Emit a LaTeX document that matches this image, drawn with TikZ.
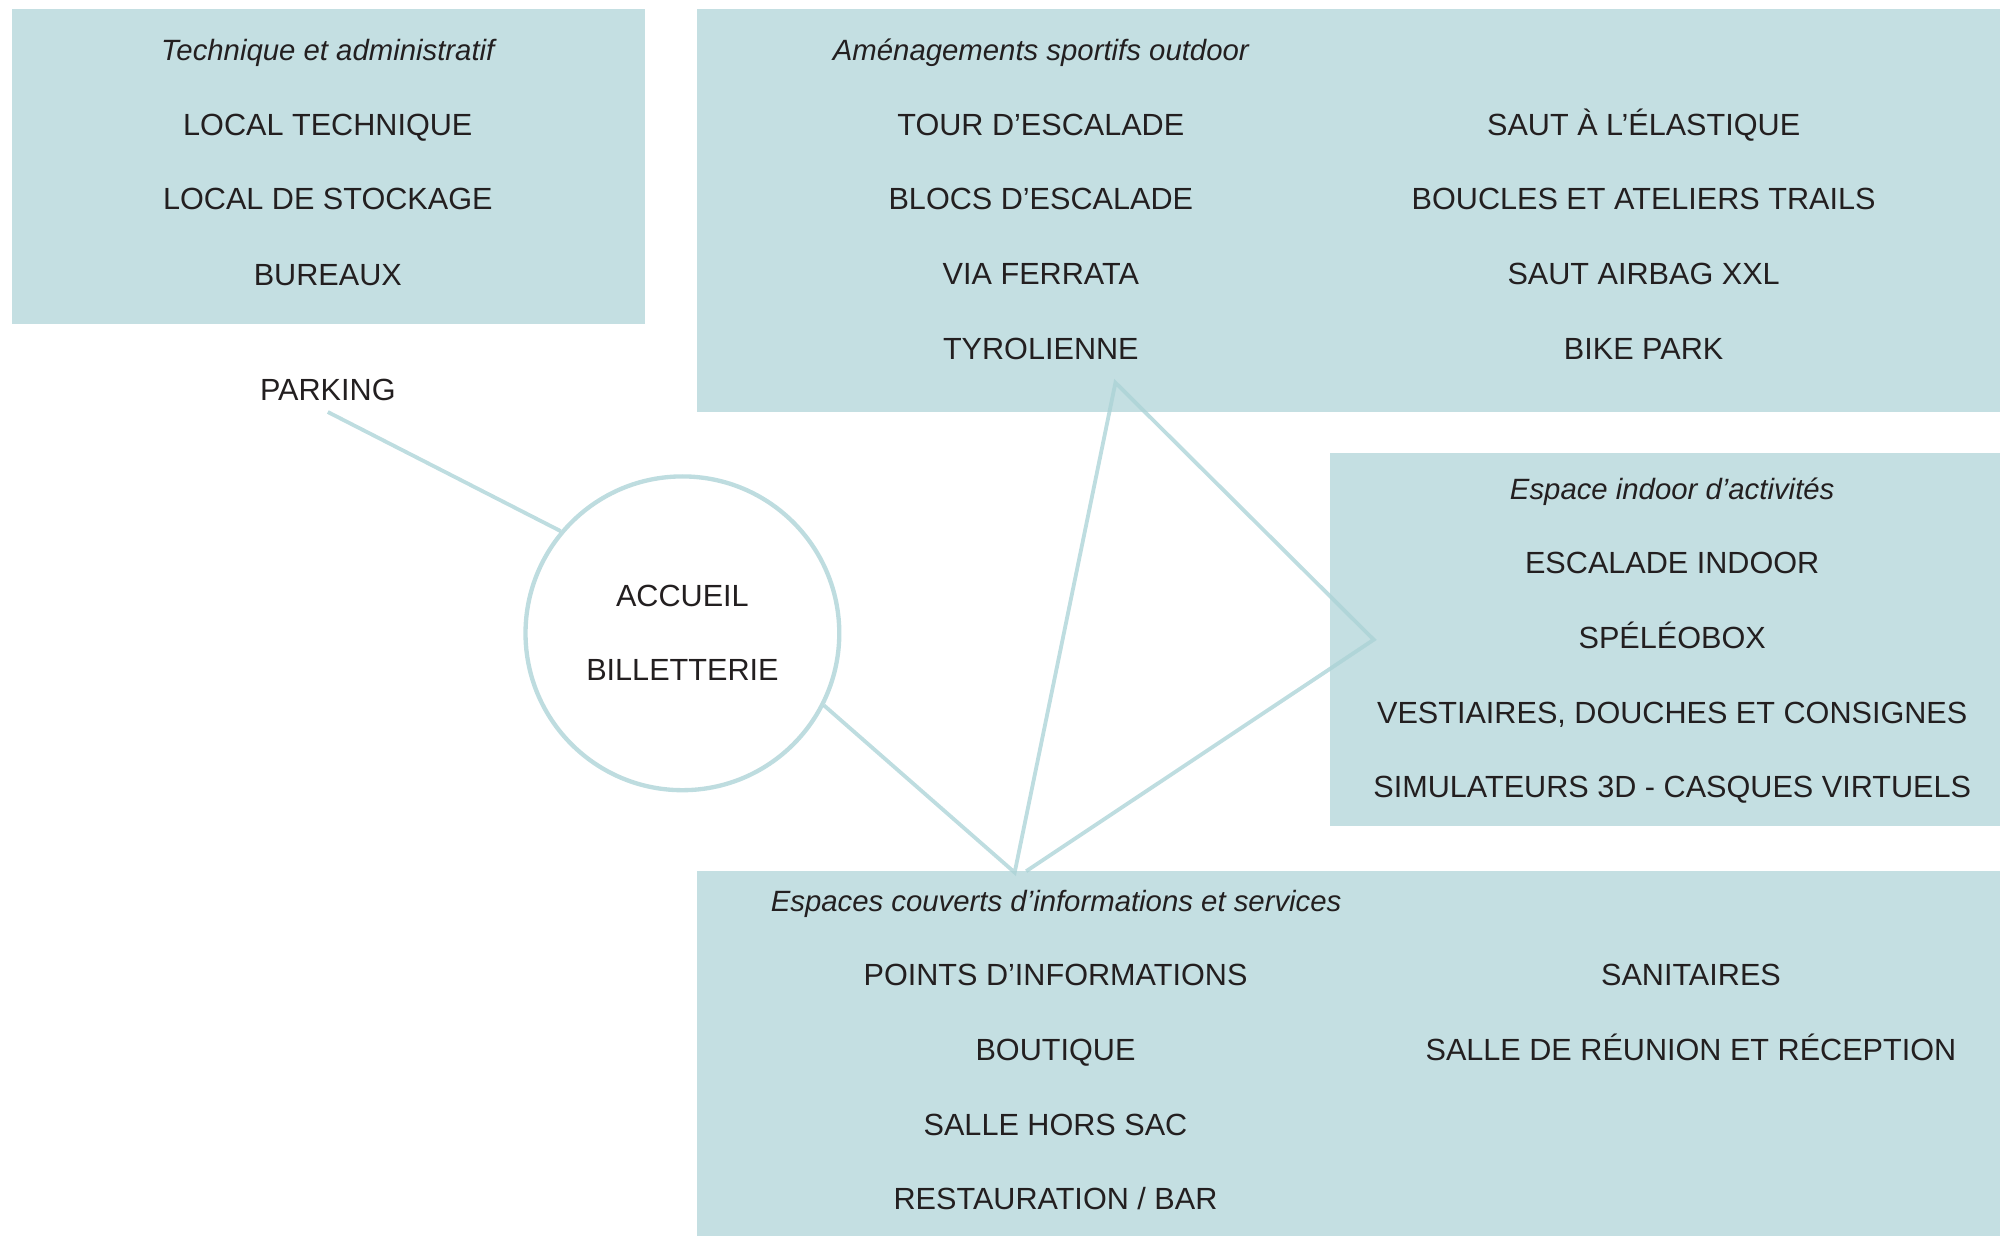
\documentclass[tikz,border=0pt]{standalone}
\usepackage{fontspec}
\setmainfont{Liberation Sans}
\definecolor{boxfill}{RGB}{196,223,226}
\definecolor{linkcol}{RGB}{170,210,214}
\definecolor{ink}{RGB}{35,31,32}
\tikzset{
  zone/.style={fill=boxfill, draw=none},
  item/.style={anchor=base, inner sep=0pt, text=ink, font=\fontsize{12}{14}\selectfont},
  heading/.style={anchor=base, inner sep=0pt, text=ink, font=\fontsize{11.5}{14}\selectfont\itshape},
  link/.style={draw=linkcol, draw opacity=0.76, line width=1.5pt, miter limit=20},
  hub/.style={circle, draw=linkcol, draw opacity=0.76, line width=1.7pt, fill=white, minimum size=123pt, inner sep=0pt}
}
\begin{document}
\begin{tikzpicture}[x=0.5pt,y=-0.5pt]
\useasboundingbox (0,0) rectangle (1568,970.6);
% zones
\fill[zone] (9.4,7) rectangle (505.7,254.3);
\fill[zone] (546.6,7) rectangle (1568,323);
\fill[zone] (1042.7,355.5) rectangle (1568,647.6);
\fill[zone] (546.6,683) rectangle (1568,969);
% hub
\node[hub] (acc) at (535,496.5) {};
% connector points
\coordinate (park) at (257,323);
\coordinate (tipL) at (795.5,684);
\coordinate (top) at (874.5,300);
\coordinate (right) at (1077,501.5);
\coordinate (tipR) at (804.5,683);
\draw[link] (park) -- (acc.140.8);
\draw[link, line join=miter] (acc.-27.4) -- (tipL) -- (top) -- (right) -- (tipR);
% Technique et administratif
\node[heading] (h1) at (257,47.6) {Technique et administratif};
\node[item] (t1) at (257,106) {LOCAL TECHNIQUE};
\node[item] (t2) at (257,164.6) {LOCAL DE STOCKAGE};
\node[item] (t3) at (257,223.5) {BUREAUX};
\node[item] (parking) at (257,313.6) {PARKING};
% Aménagements sportifs outdoor
\node[heading] (h2) at (816,47.8) {Aménagements sportifs outdoor};
\node[item] (o1) at (816,106) {TOUR D’ESCALADE};
\node[item] (o2) at (816,164.4) {BLOCS D’ESCALADE};
\node[item] (o3) at (816,223.2) {VIA FERRATA};
\node[item] (o4) at (816,281.7) {TYROLIENNE};
\node[item] (o5) at (1288.6,106.5) {SAUT À L’ÉLASTIQUE};
\node[item] (o6) at (1288.6,164.6) {BOUCLES ET ATELIERS TRAILS};
\node[item] (o7) at (1288.6,223.4) {SAUT AIRBAG XXL};
\node[item] (o8) at (1288.6,282) {BIKE PARK};
% Espace indoor
\node[heading] (h3) at (1311,391.5) {Espace indoor d’activités};
\node[item] (i1) at (1311,450) {ESCALADE INDOOR};
\node[item] (i2) at (1311,508.5) {SPÉLÉOBOX};
\node[item] (i3) at (1311,567) {VESTIAIRES, DOUCHES ET CONSIGNES};
\node[item] (i4) at (1311,625.5) {SIMULATEURS 3D - CASQUES VIRTUELS};
% Espaces couverts
\node[heading] (h4) at (828,714.5) {Espaces couverts d’informations et services};
\node[item] (s1) at (827.5,773) {POINTS D’INFORMATIONS};
\node[item] (s2) at (827.5,831.5) {BOUTIQUE};
\node[item] (s3) at (827.5,890) {SALLE HORS SAC};
\node[item] (s4) at (827.5,948.5) {RESTAURATION / BAR};
\node[item] (s5) at (1325.7,773) {SANITAIRES};
\node[item] (s6) at (1325.7,831.5) {SALLE DE RÉUNION ET RÉCEPTION};
% hub text
\node[item] (a1) at (535,475.5) {ACCUEIL};
\node[item] (a2) at (535,533.5) {BILLETTERIE};
\end{tikzpicture}
\end{document}
